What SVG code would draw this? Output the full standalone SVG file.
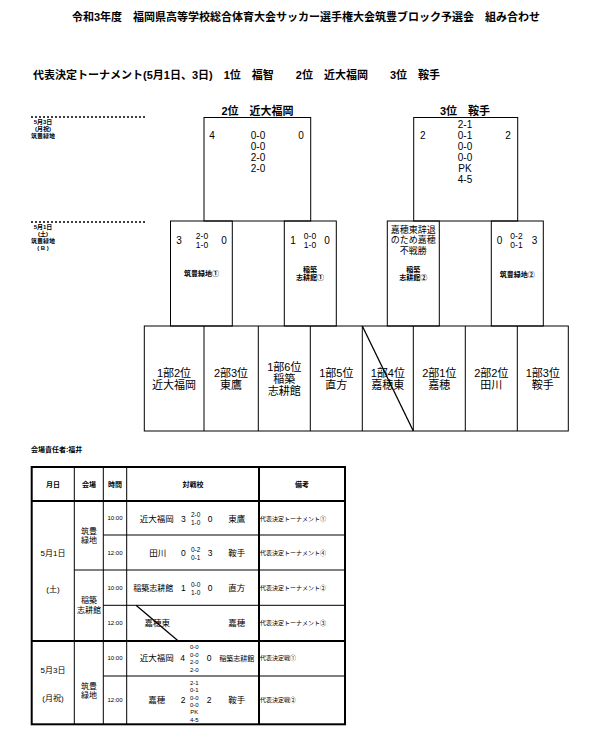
<svg xmlns="http://www.w3.org/2000/svg" width="589" height="743" viewBox="0 0 589 743">
<style>
text{font-family:"Liberation Sans","Noto Sans CJK JP",sans-serif;fill:#000;dominant-baseline:central;text-anchor:middle}
.b{font-weight:bold}
.s{text-anchor:start}
.ln{fill:none;stroke:#000;stroke-width:1}
.tk{fill:none;stroke:#000;stroke-width:2}
.dot{stroke:#000;stroke-width:1.5;stroke-dasharray:2 2}
.f11{font-size:11px}.f10{font-size:10px}.f9{font-size:9px}.f85{font-size:8.5px}.f8{font-size:8px}.f7{font-size:7px}.f65{font-size:6.5px}.f6{font-size:6px}
</style>
<g id="title">
<text class="b f11" x="306" y="17">令和3年度　福岡県高等学校総合体育大会サッカー選手権大会筑豊ブロック予選会　組み合わせ</text>
<text class="b f11 s" x="33" y="75">代表決定トーナメント(5月1日、3日)　1位　福智　　2位　近大福岡　　3位　鞍手</text>
</g>
<g id="day-labels">
<line class="dot" x1="31" y1="117" x2="145" y2="117"/>
<text class="b f6" x="43" y="122">5月3日</text>
<text class="b f6" x="43" y="129">(月祝)</text>
<text class="b f6" x="43" y="136">筑豊緑地</text>
<line class="dot" x1="31" y1="222" x2="145" y2="222"/>
<text class="b f6" x="43" y="227">5月1日</text>
<text class="b f6" x="43" y="234">(土)</text>
<text class="b f6" x="43" y="241">筑豊緑地</text>
<text class="b f6" x="43" y="248">( B )</text>
</g>
<g id="final-a">
<rect class="ln" x="204" y="117.5" width="106.7" height="103.5"/>
<text class="b f11" x="257.5" y="111">2位　近大福岡</text>
<text class="f10" x="212" y="135.5">4</text>
<text class="f10" x="258" y="135.5">0-0</text>
<text class="f10" x="258" y="146.5">0-0</text>
<text class="f10" x="258" y="157.5">2-0</text>
<text class="f10" x="258" y="168.5">2-0</text>
<text class="f10" x="301" y="135.5">0</text>
</g>
<g id="final-b">
<rect class="ln" x="413.7" y="117.5" width="104" height="103.5"/>
<text class="b f11" x="465" y="111">3位　鞍手</text>
<text class="f10" x="422.7" y="135.5">2</text>
<text class="f10" x="465" y="124.5">2-1</text>
<text class="f10" x="465" y="135.5">0-1</text>
<text class="f10" x="465" y="146.5">0-0</text>
<text class="f10" x="465" y="157.5">0-0</text>
<text class="f10" x="465" y="168.5">PK</text>
<text class="f10" x="465" y="179.5">4-5</text>
<text class="f10" x="508" y="135.5">2</text>
</g>
<g id="match-1">
<rect class="ln" x="170.5" y="221" width="61.8" height="105"/>
<text class="f10" x="179" y="240">3</text>
<text class="f85" x="202" y="235.5">2-0</text>
<text class="f85" x="202" y="244.5">1-0</text>
<text class="f10" x="224" y="240">0</text>
<text class="b f7" x="201.5" y="273.5">筑豊緑地①</text>
</g>
<g id="match-2">
<rect class="ln" x="284.3" y="221" width="52" height="105"/>
<text class="f10" x="293" y="240">1</text>
<text class="f85" x="310" y="235.5">0-0</text>
<text class="f85" x="310" y="244.5">1-0</text>
<text class="f10" x="327" y="240">0</text>
<text class="b f7" x="310" y="269.5">稲築</text>
<text class="b f7" x="310" y="277.5">志耕館①</text>
</g>
<g id="match-3">
<rect class="ln" x="387.3" y="221" width="52" height="105"/>
<text class="f9" x="413.3" y="229.5">嘉穂東辞退</text>
<text class="f9" x="413.3" y="240">のため嘉穂</text>
<text class="f9" x="413.3" y="251">不戦勝</text>
<text class="b f7" x="413.3" y="269.5">稲築</text>
<text class="b f7" x="413.3" y="277.5">志耕館②</text>
</g>
<g id="match-4">
<rect class="ln" x="491.3" y="221" width="52" height="105"/>
<text class="f10" x="499.5" y="240">0</text>
<text class="f85" x="516.5" y="235.5">0-2</text>
<text class="f85" x="516.5" y="244.5">0-1</text>
<text class="f10" x="534.5" y="240">3</text>
<text class="b f7" x="517.3" y="274">筑豊緑地②</text>
</g>
<g id="teams">
<rect class="ln" x="144.3" y="326" width="424" height="105"/>
<line class="ln" x1="204" y1="326" x2="204" y2="431"/>
<line class="ln" x1="258.3" y1="326" x2="258.3" y2="431"/>
<line class="ln" x1="310.3" y1="326" x2="310.3" y2="431"/>
<line class="ln" x1="362.3" y1="326" x2="362.3" y2="431"/>
<line class="ln" x1="413.3" y1="326" x2="413.3" y2="431"/>
<line class="ln" x1="465.3" y1="326" x2="465.3" y2="431"/>
<line class="ln" x1="517.3" y1="326" x2="517.3" y2="431"/>
<g id="team-1"><text class="f11" x="174" y="373">1部2位</text><text class="f11" x="174" y="385">近大福岡</text></g>
<g id="team-2"><text class="f11" x="231" y="373">2部3位</text><text class="f11" x="231" y="385">東鷹</text></g>
<g id="team-3"><text class="f11" x="284.3" y="367">1部6位</text><text class="f11" x="284.3" y="379">稲築</text><text class="f11" x="284.3" y="391">志耕館</text></g>
<g id="team-4"><text class="f11" x="336.3" y="373">1部5位</text><text class="f11" x="336.3" y="385">直方</text></g>
<g id="team-5"><text class="f11" x="387.8" y="373">1部4位</text><text class="f11" x="387.8" y="385">嘉穂東</text>
<line x1="362.3" y1="326" x2="413.3" y2="431" stroke="#000" stroke-width="1.3"/></g>
<g id="team-6"><text class="f11" x="439.3" y="373">2部1位</text><text class="f11" x="439.3" y="385">嘉穂</text></g>
<g id="team-7"><text class="f11" x="491.3" y="373">2部2位</text><text class="f11" x="491.3" y="385">田川</text></g>
<g id="team-8"><text class="f11" x="542.8" y="373">1部3位</text><text class="f11" x="542.8" y="385">鞍手</text></g>
</g>
<g id="schedule">
<text class="b f7 s" x="31" y="449.5">会場責任者:福井</text>
<rect class="tk" x="31.7" y="467" width="313.3" height="257.3"/>
<line class="ln" x1="74.3" y1="467" x2="74.3" y2="724.3"/>
<line class="ln" x1="103.3" y1="467" x2="103.3" y2="724.3"/>
<line class="ln" x1="126.7" y1="467" x2="126.7" y2="724.3"/>
<line class="tk" x1="259" y1="467" x2="259" y2="724.3"/>
<line class="tk" x1="31.7" y1="501" x2="345" y2="501"/>
<line class="tk" x1="31.7" y1="641" x2="345" y2="641"/>
<line class="ln" x1="74.3" y1="570" x2="345" y2="570"/>
<line class="ln" x1="103.3" y1="535" x2="345" y2="535"/>
<line class="ln" x1="103.3" y1="605.3" x2="345" y2="605.3"/>
<line class="ln" x1="103.3" y1="676" x2="345" y2="676"/>
<text class="b f7" x="53" y="484">月日</text>
<text class="b f7" x="89" y="484">会場</text>
<text class="b f7" x="115" y="484">時間</text>
<text class="b f7" x="193" y="484">対戦校</text>
<text class="b f7" x="302" y="484">備考</text>
<text class="f8" x="53" y="553.3">5月1日</text>
<text class="f8" x="53" y="589.3">(土)</text>
<text class="f8" x="53" y="670">5月3日</text>
<text class="f8" x="53" y="698.3">(月祝)</text>
<text class="f8" x="89" y="531.7">筑豊</text>
<text class="f8" x="89" y="540.7">緑地</text>
<text class="f8" x="89" y="600.5">稲築</text>
<text class="f8" x="89" y="610">志耕館</text>
<text class="f8" x="89" y="686.7">筑豊</text>
<text class="f8" x="89" y="695.5">緑地</text>
<text class="f6" x="115" y="518.3">10:00</text>
<text class="f6" x="115" y="553">12:00</text>
<text class="f6" x="115" y="588.3">10:00</text>
<text class="f6" x="115" y="623">12:00</text>
<text class="f6" x="115" y="658.3">10:00</text>
<text class="f6" x="115" y="700">12:00</text>
<g id="row-1">
<text class="f85" x="156.7" y="518.5">近大福岡</text><text class="f85" x="183.3" y="518.5">3</text>
<text class="f65" x="195.7" y="514.3">2-0</text><text class="f65" x="195.7" y="522.7">1-0</text>
<text class="f85" x="210" y="518.5">0</text><text class="f85" x="236.7" y="518.5">東鷹</text>
<text class="f6 s" x="260" y="518.5">代表決定トーナメント①</text>
</g>
<g id="row-2">
<text class="f85" x="157.7" y="553">田川</text><text class="f85" x="183.3" y="553">0</text>
<text class="f65" x="195.7" y="549">0-2</text><text class="f65" x="195.7" y="557.7">0-1</text>
<text class="f85" x="210" y="553">3</text><text class="f85" x="236.7" y="553">鞍手</text>
<text class="f6 s" x="260" y="553">代表決定トーナメント④</text>
</g>
<g id="row-3">
<text class="f8" x="153.3" y="588.3">稲築志耕館</text><text class="f85" x="183.3" y="588.3">1</text>
<text class="f65" x="195.7" y="584">0-0</text><text class="f65" x="195.7" y="592.7">1-0</text>
<text class="f85" x="210" y="588.3">0</text><text class="f85" x="236.7" y="588.3">直方</text>
<text class="f6 s" x="260" y="588.3">代表決定トーナメント②</text>
</g>
<g id="row-4">
<text class="f85" x="157.3" y="623">嘉穂東</text><text class="f85" x="236.7" y="623">嘉穂</text>
<line x1="136" y1="605.3" x2="178.3" y2="641" stroke="#000" stroke-width="1.3"/>
<text class="f6 s" x="260" y="623">代表決定トーナメント③</text>
</g>
<g id="row-5">
<text class="f85" x="156.7" y="658.3">近大福岡</text><text class="f85" x="182.7" y="658.3">4</text>
<text class="f6" x="194.3" y="646.7">0-0</text><text class="f6" x="194.3" y="654.5">0-0</text>
<text class="f6" x="194.3" y="662">2-0</text><text class="f6" x="194.3" y="669.5">2-0</text>
<text class="f85" x="209" y="658.3">0</text><text class="f7" x="236.7" y="658.3">稲築志耕館</text>
<text class="f6 s" x="260" y="658.3">代表決定戦①</text>
</g>
<g id="row-6">
<text class="f85" x="156.7" y="700">嘉穂</text><text class="f85" x="183" y="700">2</text>
<text class="f6" x="194.3" y="682.7">2-1</text><text class="f6" x="194.3" y="690">0-1</text>
<text class="f6" x="194.3" y="697.7">0-0</text><text class="f6" x="194.3" y="705">0-0</text>
<text class="f6" x="194.3" y="712.3">PK</text><text class="f6" x="194.3" y="720">4-5</text>
<text class="f85" x="209" y="700">2</text><text class="f85" x="236.7" y="700">鞍手</text>
<text class="f6 s" x="260" y="700">代表決定戦②</text>
</g>
</g>
</svg>
